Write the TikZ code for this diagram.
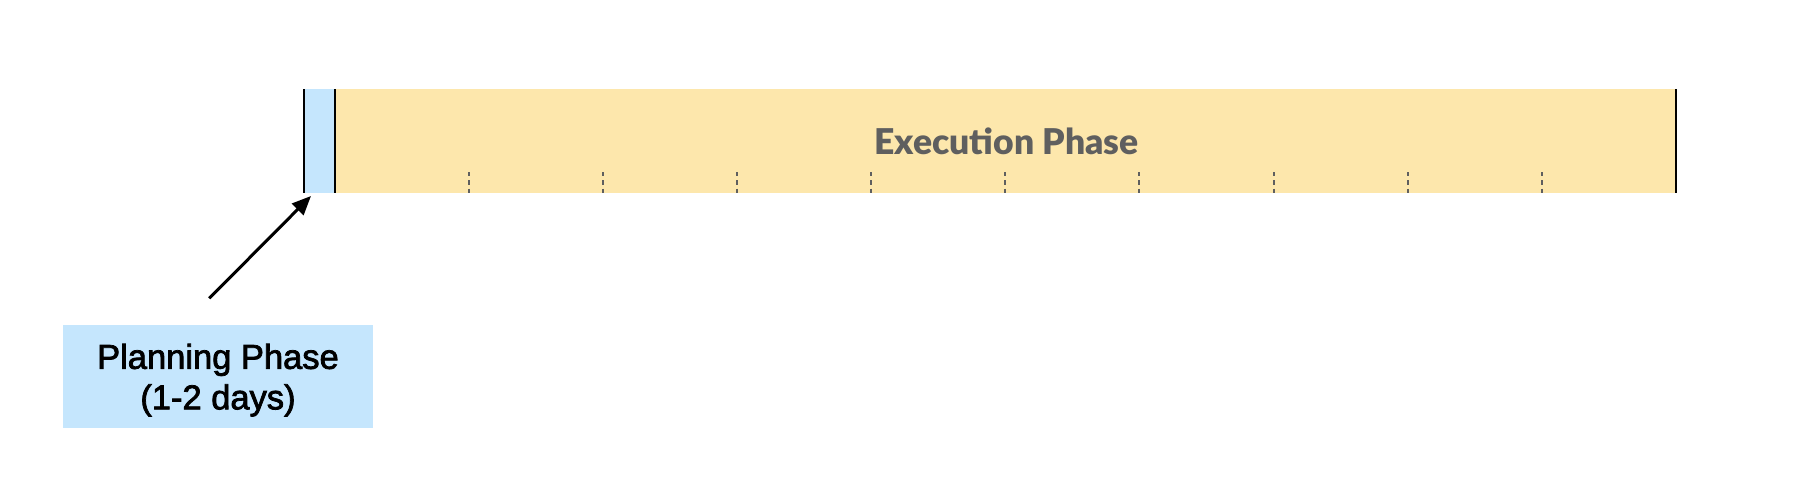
\documentclass[tikz,border=0pt]{standalone}
\usepackage{fontspec}
\setmainfont{Liberation Sans}
\newfontfamily\boxfont{Liberation Sans}[FakeBold=2.2]
\newfontfamily\latofont{Lato}[BoldFont={Lato Black}]
\usetikzlibrary{arrows.meta}
\definecolor{planblue}{RGB}{197,230,253}
\definecolor{execyellow}{RGB}{253,231,172}
\definecolor{textgray}{RGB}{95,95,95}
\definecolor{tickgray}{RGB}{95,95,95}
\tikzset{
  phasebox/.style={inner sep=0pt, outer sep=0pt, anchor=north west},
  edgeline/.style={line width=2pt, black},
  tickline/.style={line width=2pt, tickgray, dash pattern=on 4.2pt off 4.1pt},
  pointer/.style={line width=3pt, black, -{Triangle[length=19pt,width=16pt]}},
}
\begin{document}
\begin{tikzpicture}[x=1pt,y=-1pt]
\useasboundingbox (0,0) rectangle (1808,480);
\fill[white] (0,0) rectangle (1808,480);
% bar
\node[phasebox, fill=planblue, minimum width=30.7pt, minimum height=103.4pt] (plan) at (304,89.3) {};
\node[phasebox, fill=execyellow, minimum width=1341.3pt, minimum height=103.4pt] (exec) at (334.7,89.3) {};
\node[anchor=base, text=textgray, font={\latofont\bfseries\fontsize{35.5}{42}\selectfont}, inner sep=0pt] (exectext) at (1006.5,154.3) {Execution Phase};
\foreach \k in {1,...,9} {
  \draw[tickline] (334.7+\k*134.13,172) -- (334.7+\k*134.13,192.7);
}
\draw[edgeline] (plan.north west) -- (plan.south west);
\draw[edgeline] (plan.north east) -- (plan.south east);
\draw[edgeline] (exec.north east) -- (exec.south east);
% label box
\node[phasebox, fill=planblue, minimum width=310.6pt, minimum height=103.3pt] (box) at (62.7,325) {};
\node[align=center, font={\boxfont\fontsize{34.5}{40.5}\selectfont}, inner sep=0pt] (boxtext) at ([yshift=-3.5pt]box.center) {Planning Phase\\(1-2 days)};
\coordinate (arrowstart) at (209.3,298.3);
\coordinate (arrowend) at (311,196);
\draw[pointer] (arrowstart) -- (arrowend);
\end{tikzpicture}
\end{document}
